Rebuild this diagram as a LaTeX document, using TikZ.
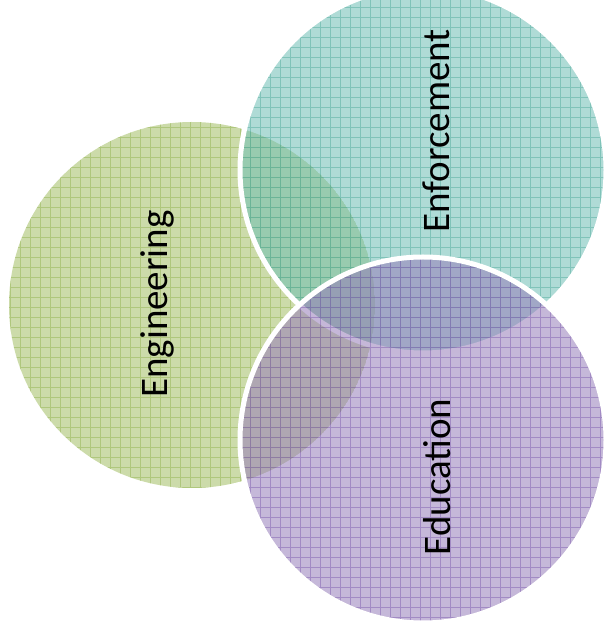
\documentclass[tikz,border=0pt]{standalone}
\usepackage{fontspec}
\setmainfont{Carlito}
\usetikzlibrary{positioning}
\definecolor{engfill}{RGB}{163,190,100}
\definecolor{engline}{RGB}{140,175,70}
\definecolor{enffill}{RGB}{110,190,180}
\definecolor{enfline}{RGB}{70,165,150}
\definecolor{edufill}{RGB}{150,125,185}
\definecolor{eduline}{RGB}{120,85,170}
\tikzset{
    %Define style for the coloured discs
    disc/.style={
           fill opacity=0.55},
    %Define style for the fine grid on the discs
    mesh/.style={
           step=10pt,
           line width=0.5pt,
           opacity=0.45},
    %Define style for the white rims
    rim/.style={
           draw=white,
           line width=5pt},
    %Define style for the words
    word/.style={
           rotate=90,
           inner sep=0pt,
           font=\fontsize{39}{39}\selectfont}
}
\begin{document}
\begin{tikzpicture}[x=1pt, y=1pt]
 %frame
    \useasboundingbox (0,0) rectangle (604,637);
 %centres
    \coordinate (eng) at (192,332);
    \coordinate (enf) at (423,467);
    \coordinate (edu) at (423,197);
 %discs
    \begin{scope}
      \clip (eng) circle (183pt);
      \fill[disc, engfill] (eng) circle (183pt);
      \draw[mesh, engline] (eng) ++(-190,-190) grid ++(380,380);
    \end{scope}
    \begin{scope}
      \clip (enf) circle (183pt);
      \fill[disc, enffill] (enf) circle (183pt);
      \draw[mesh, enfline] (enf) ++(-190,-190) grid ++(380,380);
    \end{scope}
    \draw[rim] (enf) circle (183pt);
    \begin{scope}
      \clip (edu) circle (183pt);
      \fill[disc, edufill] (edu) circle (183pt);
      \draw[mesh, eduline] (edu) ++(-190,-190) grid ++(380,380);
    \end{scope}
    \draw[rim] (edu) circle (183pt);
 %words
    \node[word] (engword) at (157,333) {Engineering};
    \node[word] (enfword) at (436,506) {Enforcement};
    \node[word] (eduword) at (437,160) {Education};
\end{tikzpicture}
\end{document}
